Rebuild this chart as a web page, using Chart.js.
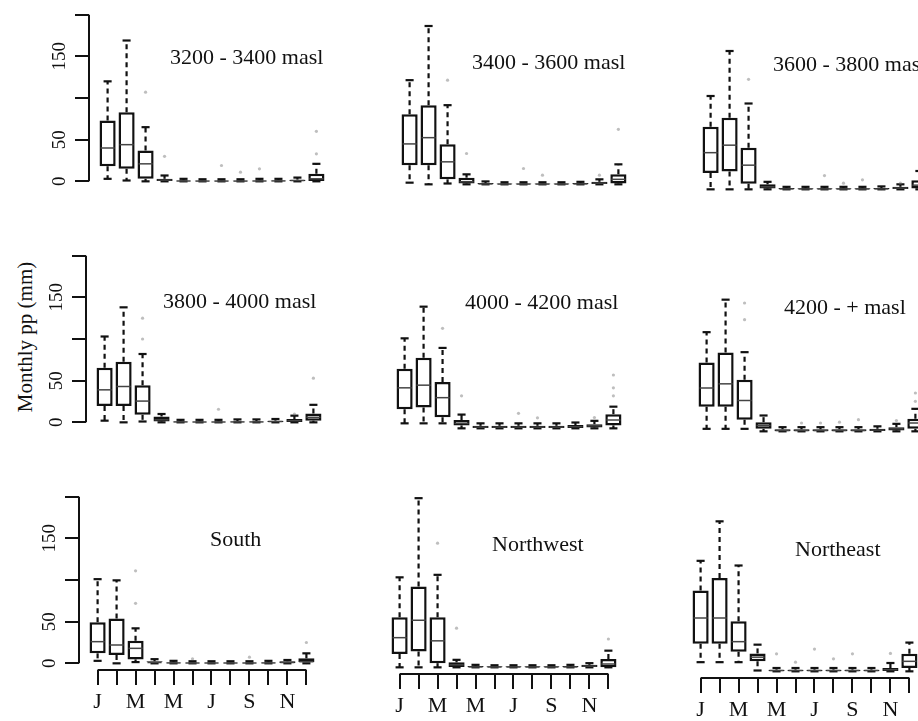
<!DOCTYPE html>
<html>
<head>
<meta charset="utf-8">
<script src="https://cdn.jsdelivr.net/npm/chart.js@4"></script>
<style>
  body { margin: 0; background: #fff; width: 918px; height: 721px; overflow: hidden; position: relative; }
  canvas { position: absolute; }
  .ytitle {
    position: absolute; left: 25px; top: 337px; white-space: nowrap;
    font: 21px "Liberation Serif", serif; color: #111;
    transform: translate(-50%, -50%) rotate(-90deg);
  }
</style>
</head>
<body>
<div class="ytitle">Monthly pp (mm)</div>
<script>
// month axis
const months = ['J', 'F', 'M', 'A', 'M', 'J', 'J', 'A', 'S', 'O', 'N', 'D']
const yTicks = [0, 50, 100, 150, 200]
const yLabels = ['0', '50', '', '150', '']

// box stats per month: [lower whisker, Q1, median, Q3, upper whisker]
const s3200 = [[3,18,40,73,120],[1,15,44,83,169],[0,3,21,37,65],[0,0.5,1.5,3,7],[0,0,0.4,1.2,3],[0,0,0.3,1,2.5],[0,0,0.3,1,2.5],[0,0,0.3,1,2.5],[0,0,0.4,1.2,3],[0,0,0.5,1.5,3],[0,0.3,1,2,4.5],[0,0.5,3,9,21]]
const s3400 = [[2,23,48.5,84,125],[0,23,56,95,190],[1,6,27,48,95],[0,1,3,8,12],[0,0,0.5,1.5,3.5],[0,0,0.3,1,2.5],[0,0,0.3,1,2.5],[0,0,0.3,1,2.5],[0,0,0.3,1,2.5],[0,0,0.5,1.5,3],[0,0.5,1.5,3,6],[0,1,6,12,24]]
const s3600 = [[0,19.6,44,75,112],[0,21.5,53,86,166],[0,6.7,29,50,103],[0,1,3,6,9],[0,0,0.5,1.5,3],[0,0,0.4,1.2,3],[0,0,0.4,1.2,3],[0,0,0.4,1.2,3],[0,0,0.4,1.2,3],[0,0,0.5,1.5,3.5],[0,0.5,1.5,3,6],[0,1,5,11,22]]
const s3800 = [[2,19.6,39,65.5,103],[0,19.6,43,72.6,138],[1,9,25.5,44.4,82],[0,1,3,7,10],[0,0,0.5,1.5,3],[0,0,0.4,1.2,3],[0,0,0.4,1.2,3],[0,0,0.5,1.5,3.5],[0,0,0.5,1.5,3.5],[0,0.3,1,2,4],[0,0.5,2,4,8],[0,2,6,10.6,21]]
const s4000 = [[6,23,48.6,71.4,108],[6,25,51.8,84.7,146],[6,13.3,36.8,55.7,96.5],[0,3.5,6,10,16.5],[0,0.3,1.5,3,6],[0,0.3,1.5,3,6],[0,0.3,1.5,3,6],[0,0.3,1.5,3,6],[0,0.3,1.5,3,6],[0,0.5,2,4,7],[0,1,3,5,9],[0,3.5,10,17,26]]
const s4200 = [[3,29.4,52,82.7,119],[3,29.4,57,94.5,158],[3,14,37,62,95],[0,3,7,11,19],[0,0,1,2.5,5],[0,0,1,2.5,5],[0,0,1,2.5,5],[0,0,1,2.5,5],[0,0,1,2.5,5],[0,0.5,1.5,3,6],[0,1,3,5,9],[0,3,10,15,27]]
const sSouth = [[3,12,26,49.4,101],[0,10,22,53.7,99.6],[1.5,4.7,18,27,42],[0,0,1,2.5,5],[0,0,0.5,1.5,3],[0,0,0.4,1.2,2.5],[0,0,0.4,1.2,2.5],[0,0,0.4,1.2,2.5],[0,0,0.4,1.2,2.5],[0,0,0.5,1.5,3],[0,0.3,1,2.5,4],[0,0,2,6,12]]
const sNorthwest = [[0,16,35.6,60,108],[0,19,56.5,97,203],[0,5,31.8,60,111],[0,0.5,3,6,9],[0,0,0.5,1.5,3],[0,0,0.4,1.2,2.5],[0,0,0.4,1.2,2.5],[0,0,0.4,1.2,2.5],[0,0,0.4,1.2,2.5],[0,0,0.5,1.5,3],[0,0.5,1.5,3,5],[0,0,4,10,20]]
const sNortheast = [[11,33,64,97,132.6],[11,33,64,112,180],[11,23.5,35.6,60,127],[1,12,17,21.5,32],[0,0,1,2,4],[0,0,1,2,4],[0,0,1,2,4],[0,0,1,2,4],[0,0,1,2,4],[0,0,1,2,4],[0,0.5,2,4,10],[0,4,12,21,34.5]]

// outliers: [month, value]
const o3200 = [[3,107],[4,30],[7,19],[8,11],[9,15],[12,33],[12,60]]
const o3400 = [[3,125],[4,37],[7,19],[8,11],[11,11],[12,66]]
const o3600 = [[3,132],[7,16.5],[8,7.4],[9,11.4],[11,7.4]]
const o3800 = [[3,125],[3,100],[7,15.7],[11,10],[12,53]]
const o4000 = [[3,120],[4,39],[7,18],[8,12.6],[11,13],[12,39],[12,48.6],[12,64]]
const o4200 = [[3,154],[3,134],[6,10],[7,10],[8,11],[9,14],[11,13],[12,36],[12,46]]
const oSouth = [[3,111],[3,72],[6,5.5],[9,7.4],[12,25]]
const oNorthwest = [[3,149],[4,47],[12,34]]
const oNortheast = [[3,49],[5,21],[6,11],[7,26.7],[8,15],[9,21],[11,21.5]]

// layout: pixel of January / zero line, title offset
const panels = [
  { title: '3200 - 3400 masl', stats: s3200, out: o3200, janX: 108, zeroY: 181, tx: 81, ty: 123, left: true, bottom: false },
  { title: '3400 - 3600 masl', stats: s3400, out: o3400, janX: 410, zeroY: 184.5, tx: 81, ty: 121, left: false, bottom: false },
  { title: '3600 - 3800 masl', stats: s3600, out: o3600, janX: 711, zeroY: 189, tx: 81, ty: 124, left: false, bottom: false },
  { title: '3800 - 4000 masl', stats: s3800, out: o3800, janX: 105, zeroY: 421.7, tx: 77, ty: 120, left: true, bottom: false },
  { title: '4000 - 4200 masl', stats: s4000, out: o4000, janX: 405, zeroY: 428, tx: 79, ty: 125, left: false, bottom: false },
  { title: '4200 - + masl', stats: s4200, out: o4200, janX: 706.5, zeroY: 431, tx: 96, ty: 123, left: false, bottom: false },
  { title: 'South', stats: sSouth, out: oSouth, janX: 98, zeroY: 663, tx: 131, ty: 123, left: true, bottom: true },
  { title: 'Northwest', stats: sNorthwest, out: oNorthwest, janX: 400, zeroY: 667, tx: 111, ty: 122, left: false, bottom: true },
  { title: 'Northeast', stats: sNortheast, out: oNortheast, janX: 701, zeroY: 671, tx: 113, ty: 121, left: false, bottom: true }
]

const AXW = 70, AXH = 50, AREA_W = 250, AREA_H = 184
const X_MIN = 0.02, X_MAX = 12.98, Y_MIN = -8, Y_MAX = 208
const FONT = '"Liberation Serif", serif'
Chart.defaults.font.family = FONT
Chart.defaults.color = '#111'

function line(ctx, x1, y1, x2, y2) {
  ctx.beginPath()
  ctx.moveTo(x1, y1)
  ctx.lineTo(x2, y2)
  ctx.stroke()
}

function boxPlugin(p) {
  return {
    id: 'boxes',
    beforeDatasetsDraw(chart) {
      const { ctx, scales: { x, y } } = chart
      const bars = chart.getDatasetMeta(0).data
      ctx.save()
      ctx.strokeStyle = '#111'
      ctx.lineWidth = 2.2
      p.stats.forEach((s, i) => {
        const [lo, q1, med, q3, hi] = s
        const cx = x.getPixelForValue(i + 1)
        const w = bars[i].width
        ctx.setLineDash([5, 4])
        line(ctx, cx, y.getPixelForValue(q3), cx, y.getPixelForValue(hi))
        line(ctx, cx, y.getPixelForValue(q1), cx, y.getPixelForValue(lo))
        ctx.setLineDash([])
        line(ctx, cx - w / 4, y.getPixelForValue(hi), cx + w / 4, y.getPixelForValue(hi))
        line(ctx, cx - w / 4, y.getPixelForValue(lo), cx + w / 4, y.getPixelForValue(lo))
      })
      ctx.restore()
    },
    afterDatasetsDraw(chart) {
      const { ctx, scales: { x, y } } = chart
      const bars = chart.getDatasetMeta(0).data
      ctx.save()
      ctx.strokeStyle = '#444'
      ctx.lineWidth = 1.5
      p.stats.forEach((s, i) => {
        const cx = x.getPixelForValue(i + 1)
        const w = bars[i].width
        const ym = y.getPixelForValue(s[2])
        line(ctx, cx - w / 2 + 1, ym, cx + w / 2 - 1, ym)
      })
      ctx.restore()
    },
    afterDraw(chart) {
      const { ctx, chartArea: a, scales: { x, y } } = chart
      ctx.save()
      ctx.strokeStyle = '#111'
      ctx.lineWidth = 2
      if (p.left) line(ctx, a.left, y.getPixelForValue(0), a.left, y.getPixelForValue(200))
      if (p.bottom) line(ctx, x.getPixelForValue(1), a.bottom, x.getPixelForValue(12), a.bottom)
      ctx.fillStyle = '#111'
      ctx.font = '22px ' + FONT
      ctx.textBaseline = 'middle'
      ctx.textAlign = 'left'
      ctx.fillText(p.title, a.left + p.tx, y.getPixelForValue(0) - p.ty)
      ctx.restore()
    }
  }
}

function fixPadding(scale) {
  scale.paddingTop = 0
  scale.paddingBottom = 0
  scale.paddingLeft = 0
  scale.paddingRight = 0
}

panels.forEach(p => {
  const cv = document.createElement('canvas')
  cv.width = AXW + AREA_W
  cv.height = AREA_H + AXH
  const pxPerX = AREA_W / (X_MAX - X_MIN)
  const pxPerY = AREA_H / (Y_MAX - Y_MIN)
  cv.style.left = (p.janX - (1 - X_MIN) * pxPerX - AXW) + 'px'
  cv.style.top = (p.zeroY - Y_MAX * pxPerY) + 'px'
  document.body.appendChild(cv)

  new Chart(cv, {
    type: 'bar',
    data: {
      datasets: [{
        type: 'bar',
        data: p.stats.map((s, i) => ({ x: i + 1, y: [s[1], s[3]] })),
        backgroundColor: '#fff',
        borderColor: '#111',
        borderWidth: 2.5,
        borderSkipped: false,
        categoryPercentage: 1,
        barPercentage: 0.85
      }, {
        type: 'scatter',
        data: p.out.map(o => ({ x: o[0], y: o[1] })),
        pointRadius: 1.6,
        pointBackgroundColor: 'rgba(110,110,110,0.45)',
        pointBorderWidth: 0
      }]
    },
    plugins: [boxPlugin(p)],
    options: {
      responsive: false,
      animation: false,
      events: [],
      layout: { padding: 0 },
      plugins: { legend: { display: false }, tooltip: { enabled: false } },
      scales: {
        x: {
          type: 'linear',
          offset: false,
          min: X_MIN,
          max: X_MAX,
          afterBuildTicks: scale => { scale.ticks = months.map((m, i) => ({ value: i + 1 })) },
          afterFit: scale => { scale.height = AXH; fixPadding(scale) },
          border: { display: false },
          grid: { display: p.bottom, offset: false, drawOnChartArea: false, drawTicks: true, tickLength: 15, color: '#111', lineWidth: 2 },
          ticks: {
            display: p.bottom,
            autoSkip: false,
            maxRotation: 0,
            padding: 4,
            font: { size: 22 },
            callback: (v, i) => i % 2 === 0 ? months[i] : ''
          }
        },
        y: {
          min: Y_MIN,
          max: Y_MAX,
          afterBuildTicks: scale => { scale.ticks = yTicks.map(v => ({ value: v })) },
          afterFit: scale => { scale.width = AXW; fixPadding(scale) },
          border: { display: false },
          grid: { display: p.left, drawOnChartArea: false, drawTicks: true, tickLength: 14, color: '#111', lineWidth: 2 },
          ticks: {
            display: p.left,
            minRotation: 90,
            maxRotation: 90,
            crossAlign: 'center',
            padding: 1,
            font: { size: 19 },
            callback: (v, i) => yLabels[i]
          }
        }
      }
    }
  })
})
</script>
</body>
</html>
